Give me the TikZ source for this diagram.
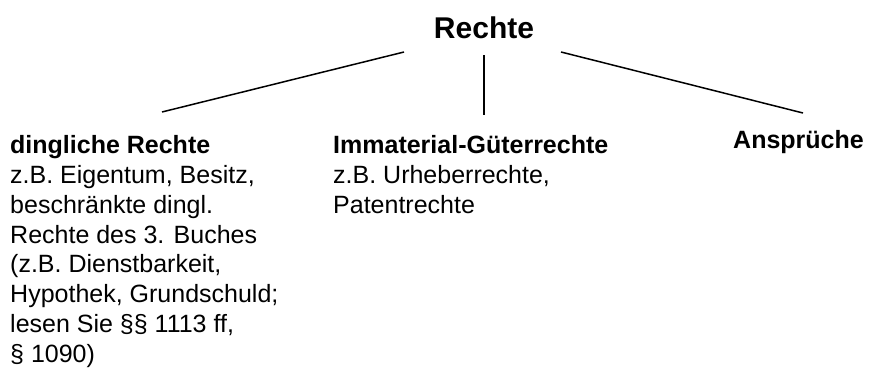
\documentclass[tikz,border=0pt]{standalone}
\usepackage{fontspec}
\setmainfont{Liberation Sans}
\tikzset{
  headtext/.style={font=\fontsize{30}{36}\selectfont\bfseries, inner sep=0pt},
  blocktext/.style={font=\fontsize{25}{29.9}\selectfont, align=left, inner sep=0pt, anchor=north west},
  branch/.style={line width=1.5pt}
}
\begin{document}
\begin{tikzpicture}[x=1pt,y=-1pt]
  \useasboundingbox (0,0) rectangle (870,372);

  %draw nodes
  \node[headtext, anchor=base] (rechte) at (484,38) {Rechte};
  \node[blocktext] (ding) at (10,135) {\textbf{dingliche Rechte}\\
    z.B. Eigentum, Besitz,\\
    beschränkte dingl.\\
    Rechte des 3. Buches\\
    (z.B. Dienstbarkeit,\\
    Hypothek, Grundschuld;\\
    lesen Sie §§ 1113 ff,\\
    § 1090)};
  \node[blocktext] (immat) at (333,135) {\textbf{Immaterial-Güterrechte}\\
    z.B. Urheberrechte,\\
    Patentrechte};
  \node[blocktext] (anspr) at (733,130) {\textbf{Ansprüche}};

  %draw branch lines
  \coordinate (ltop) at (404,52);
  \coordinate (lbot) at (162,112);
  \coordinate (mtop) at (484,55);
  \coordinate (mbot) at (484,115);
  \coordinate (rtop) at (561,52);
  \coordinate (rbot) at (803,113);
  \draw[branch] (ltop) -- (lbot);
  \draw[branch] (mtop) -- (mbot);
  \draw[branch] (rtop) -- (rbot);
\end{tikzpicture}
\end{document}
